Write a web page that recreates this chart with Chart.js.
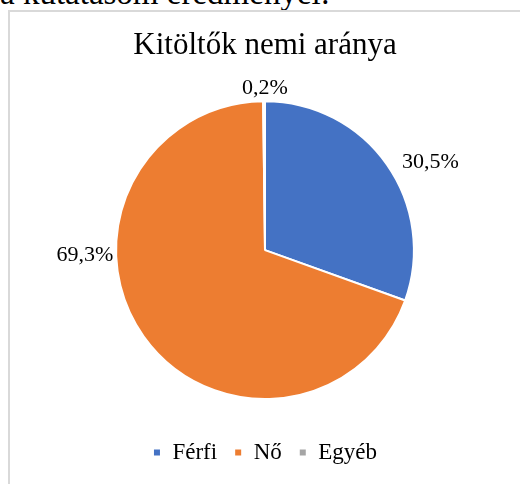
<!DOCTYPE html>
<html>
<head>
<meta charset="utf-8">
<script src="https://cdn.jsdelivr.net/npm/chart.js@4"></script>
<style>
  html, body { margin: 0; padding: 0; background: #fff; overflow: hidden; }
  body { width: 520px; height: 484px; position: relative; font-family: 'Liberation Serif', 'Times New Roman', serif; }
  #intro { position: absolute; left: 0; top: -23px; font-size: 33px; line-height: 33px; color: #000; white-space: nowrap; }
  #frame { position: absolute; left: 8px; top: 10px; width: 600px; height: 600px; border: 2px solid #d9d9d9; box-sizing: border-box; }
  #wrap { position: absolute; left: 0; top: 0; width: 520px; height: 484px; }
</style>
</head>
<body>
<div id="intro">a kutatásom eredményei:</div>
<div id="frame"></div>
<div id="wrap"><canvas id="myPieChart"></canvas></div>
<script>
/*declare chart data*/
const labels = ['Férfi', 'Nő', 'Egyéb'];
const shares = [30.5, 69.3, 0.2];
const colors = ['#4472C4', '#ED7D31', '#A5A5A5'];

const serif = "'Liberation Serif', 'Times New Roman', serif";

/*percent labels placed around the pie, like the excel best-fit*/
const pieLabels = {
  id: 'pieLabels',
  afterDatasetsDraw(chart, args, opts) {
    const ctx = chart.ctx;
    const arcs = chart.getDatasetMeta(0).data;
    ctx.save();
    ctx.font = opts.size + 'px ' + serif;
    ctx.fillStyle = '#000';
    ctx.textAlign = 'center';
    ctx.textBaseline = 'middle';
    arcs.forEach((arc, i) => {
      const a = opts.angles[i] * Math.PI / 180;
      const d = arc.outerRadius * opts.dist[i];
      const txt = shares[i].toFixed(1).replace('.', ',') + '%';
      ctx.fillText(txt, arc.x + Math.cos(a) * d, arc.y + Math.sin(a) * d);
    });
    ctx.restore();
  }
};

const pieConfig = {
  type: 'pie',
  data: {
    labels: labels,
    datasets: [{
      data: shares,
      backgroundColor: colors,
      borderColor: '#fff',
      borderWidth: 2
    }]
  },
  options: {
    responsive: true,
    maintainAspectRatio: false,
    animation: false,
    layout: { padding: { left: 10, right: 0, top: 0, bottom: 10 } },
    plugins: {
      title: {
        display: true,
        text: 'Kitöltők nemi aránya',
        color: '#000',
        font: { family: serif, size: 31, weight: 'normal' },
        padding: { top: 27, bottom: 36 }
      },
      legend: {
        position: 'bottom',
        title: {
          display: true,
          text: '',
          font: { size: 10, lineHeight: 1 },
          padding: { top: 14, bottom: 0 }
        },
        labels: {
          color: '#000',
          font: { family: serif, size: 23 },
          boxWidth: 8,
          boxHeight: 8,
          padding: 17
        }
      },
      tooltip: { enabled: false },
      pieLabels: {
        size: 22,
        angles: [-28.1, 178.4, -90],
        dist: [1.26, 1.21, 1.09]
      }
    }
  },
  plugins: [pieLabels]
};

/*create chart*/
var myPieChart = new Chart(
  document.getElementById('myPieChart'),
  pieConfig
);
</script>
</body>
</html>
